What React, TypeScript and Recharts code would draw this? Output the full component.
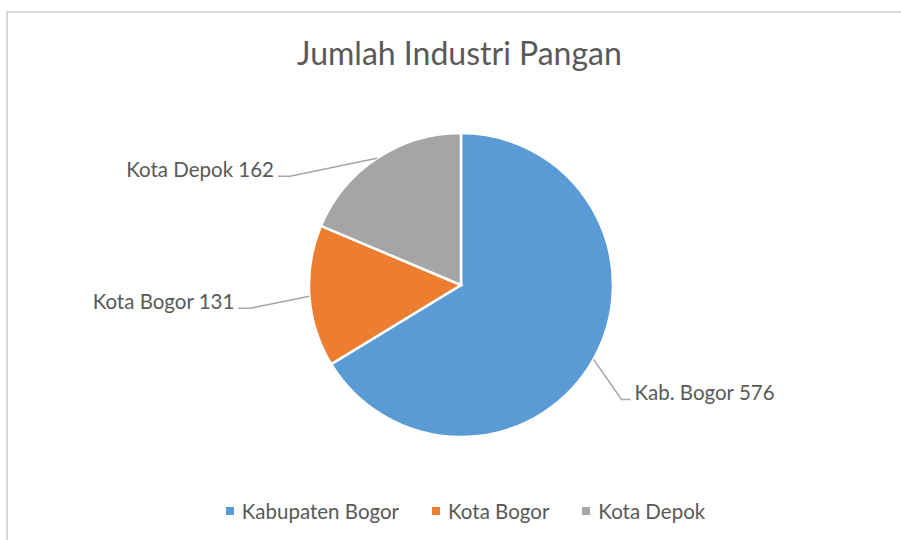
import React from "react";
import { PieChart, Pie, Cell, Legend } from "recharts";

const categories: string[] = ["Kabupaten Bogor", "Kota Bogor", "Kota Depok"];
const shortNames: string[] = ["Kab. Bogor", "Kota Bogor", "Kota Depok"];
const values: number[] = [576, 131, 162];

const colors: string[] = ["#5B9BD5", "#ED7D31", "#A5A5A5"];

// leader line elbows, relative to the slice edge point
const elbows = [
    { dx: 28, dy: 40, run: 9 },
    { dx: -59, dy: 12, run: -12 },
    { dx: -87, dy: 18, run: -12 },
];

const FONT = "Lato, 'Open Sans', sans-serif";
const TEXT = "#595959";
const RADIAN = Math.PI / 180;

const data = categories.map((c, i) => ({ name: c, label: shortNames[i], value: values[i] }));

const renderLabel = (props: any) => {
    const { cx, cy, midAngle, outerRadius, index } = props;
    const ex = cx + outerRadius * Math.cos(-midAngle * RADIAN);
    const ey = cy + outerRadius * Math.sin(-midAngle * RADIAN);
    const e = elbows[index];
    const bx = ex + e.dx;
    const by = ey + e.dy;
    const hx = bx + e.run;
    const right = e.run > 0;
    return (
        <g>
            <polyline
                points={`${ex},${ey} ${bx},${by} ${hx},${by}`}
                fill="none"
                stroke="#A6A6A6"
                strokeWidth={1.5}
            />
            <text
                x={right ? hx + 4 : hx - 4}
                y={by - 7}
                textAnchor={right ? "start" : "end"}
                dominantBaseline="central"
                fill={TEXT}
                fontSize={20.5}
                fontFamily={FONT}
            >
                {`${data[index].label} ${data[index].value}`}
            </text>
        </g>
    );
};

const renderLegend = () => (
    <div style={{ display: "flex", justifyContent: "center", gap: 33, fontFamily: FONT, fontSize: 20.5, color: TEXT }}>
        {data.map((d, i) => (
            <div key={d.name} style={{ display: "flex", alignItems: "center" }}>
                <span style={{ width: 8, height: 8, background: colors[i], marginRight: 8, display: "inline-block" }} />
                <span>{d.name}</span>
            </div>
        ))}
    </div>
);

export default function App() {
    return (
        <div style={{ position: "absolute", left: 0, top: 0, width: 901, height: 540, background: "#fff", overflow: "hidden" }}>
            <div
                style={{
                    position: "absolute",
                    left: 6,
                    top: 11,
                    width: 901,
                    height: 540,
                    borderTop: "2px solid #D9D9D9",
                    borderLeft: "2px solid #D9D9D9",
                }}
            />
            <div
                style={{
                    position: "absolute",
                    left: 0,
                    top: 34,
                    width: 919,
                    textAlign: "center",
                    fontFamily: FONT,
                    fontSize: 32,
                    color: TEXT,
                    lineHeight: "38px",
                }}
            >
                Jumlah Industri Pangan
            </div>
            <PieChart
                width={901}
                height={540}
                margin={{ top: 0, right: 0, bottom: 0, left: 0 }}
                style={{ position: "absolute", left: 0, top: 0 }}
            >
                <Pie
                    data={data}
                    dataKey="value"
                    nameKey="name"
                    cx={461}
                    cy={285}
                    outerRadius={152}
                    startAngle={90}
                    endAngle={-270}
                    stroke="#fff"
                    strokeWidth={2.5}
                    labelLine={false}
                    label={renderLabel}
                    isAnimationActive={false}
                >
                    {data.map((_, i) => (
                        <Cell key={`cell-${i}`} fill={colors[i]} />
                    ))}
                </Pie>
                <Legend
                    content={renderLegend}
                    layout="horizontal"
                    verticalAlign="bottom"
                    wrapperStyle={{ top: 499, left: 0, width: 931, bottom: "auto" }}
                />
            </PieChart>
        </div>
    );
}
